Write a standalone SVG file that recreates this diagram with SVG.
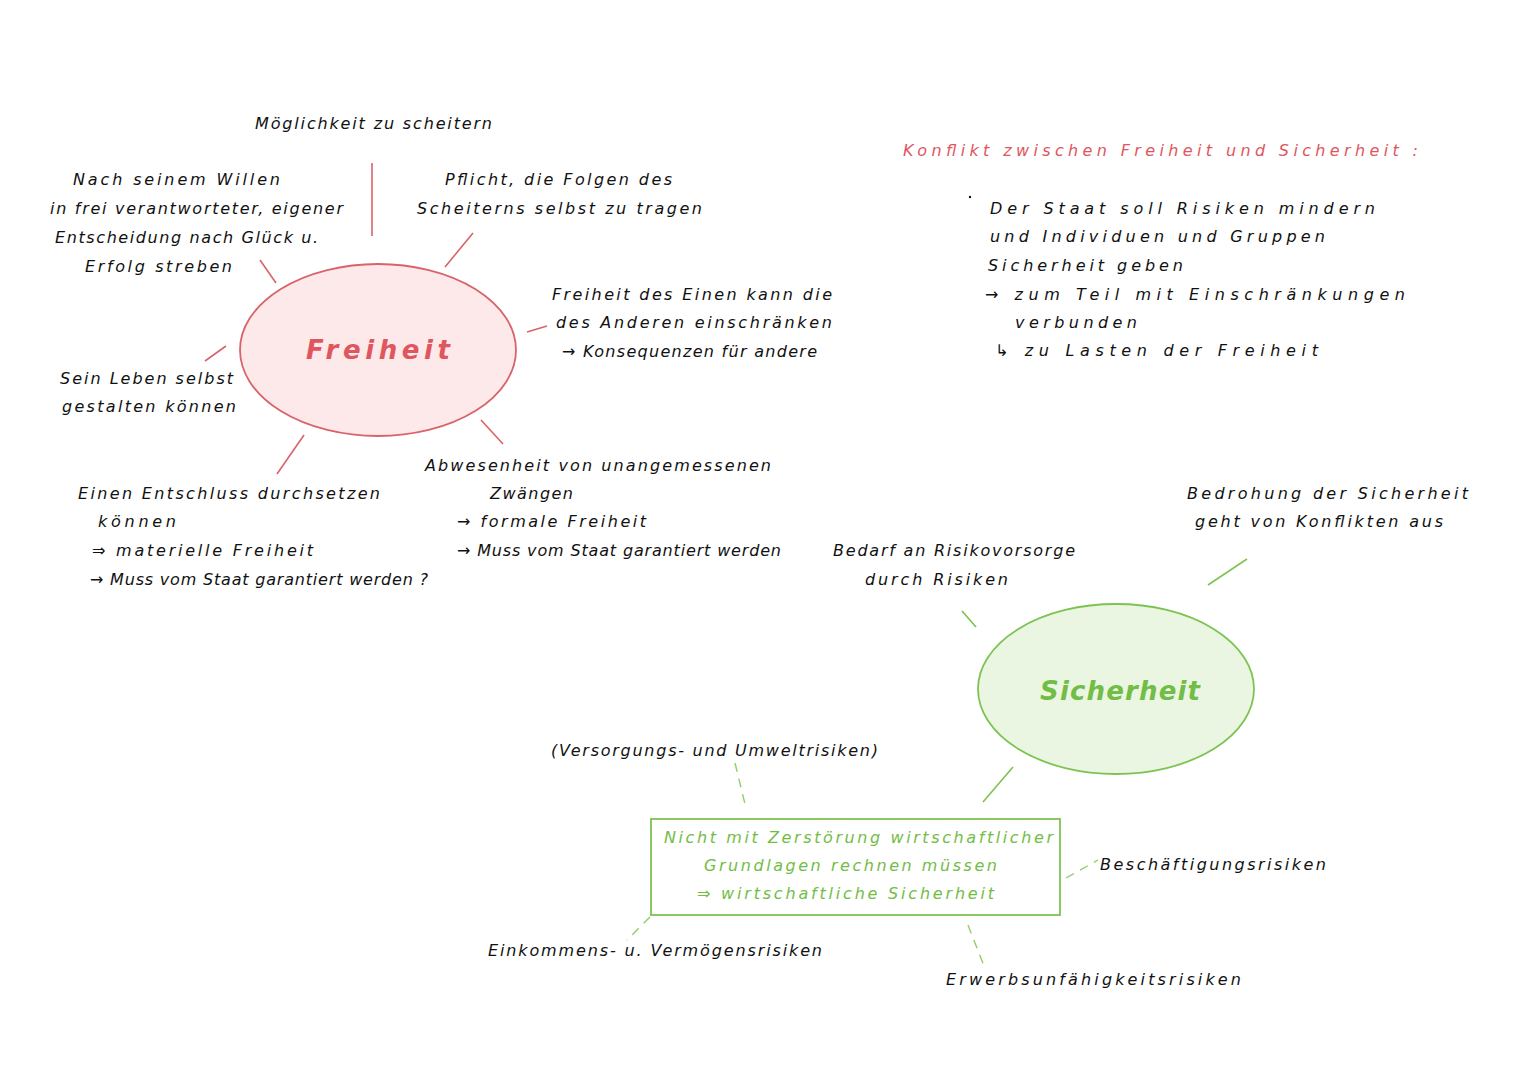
<svg xmlns="http://www.w3.org/2000/svg" width="1527" height="1080" viewBox="0 0 1527 1080">
<style>
text{font-family:"DejaVu Sans","Liberation Sans",Arial,sans-serif;font-style:italic;font-size:16px;fill:#111}
.r{fill:#e0565e}
.g{fill:#72bd45}
.big{font-size:26px;font-weight:bold}
.rl{stroke:#d9636a;stroke-width:1.6;fill:none}
.gl{stroke:#7dc351;stroke-width:1.6;fill:none}
.gd{stroke:#8fcf6a;stroke-width:1.4;fill:none;stroke-dasharray:9 7}
</style>
<rect width="1527" height="1080" fill="#fff"/>
<g id="connectors">
<line class="rl" x1="372" y1="163" x2="372" y2="236"/>
<line class="rl" x1="445" y1="267" x2="473" y2="233"/>
<line class="rl" x1="260" y1="260" x2="276" y2="283"/>
<line class="rl" x1="527" y1="332" x2="547" y2="326"/>
<line class="rl" x1="205" y1="361" x2="226" y2="346"/>
<line class="rl" x1="277" y1="474" x2="304" y2="435"/>
<line class="rl" x1="481" y1="420" x2="503" y2="444"/>
<line class="gl" x1="1208" y1="585" x2="1247" y2="559"/>
<line class="gl" x1="962" y1="611" x2="976" y2="627"/>
<line class="gl" x1="983" y1="802" x2="1013" y2="767"/>
<line class="gd" x1="735" y1="763" x2="746" y2="808"/>
<line class="gd" x1="1066" y1="878" x2="1098" y2="860"/>
<line class="gd" x1="650" y1="917" x2="627" y2="940"/>
<line class="gd" x1="968" y1="925" x2="984" y2="966"/>
</g>
<g id="freiheit">
<ellipse cx="378" cy="350" rx="138" ry="86" fill="#fde9e9" stroke="#d9636a" stroke-width="1.8"/>
<text class="r big" x="306" y="359" textLength="144" lengthAdjust="spacing">Freiheit</text>
</g>
<g id="moeglichkeit"><text x="255" y="129" textLength="237" lengthAdjust="spacing">Möglichkeit zu scheitern</text></g>
<g id="nach-willen">
<text x="73" y="185" textLength="207" lengthAdjust="spacing">Nach seinem Willen</text>
<text x="50" y="214" textLength="293" lengthAdjust="spacing">in frei verantworteter, eigener</text>
<text x="55" y="243" textLength="263" lengthAdjust="spacing">Entscheidung nach Glück u.</text>
<text x="85" y="272" textLength="147" lengthAdjust="spacing">Erfolg streben</text>
</g>
<g id="pflicht">
<text x="445" y="185" textLength="227" lengthAdjust="spacing">Pflicht, die Folgen des</text>
<text x="417" y="214" textLength="285" lengthAdjust="spacing">Scheiterns selbst zu tragen</text>
</g>
<g id="freiheit-einen">
<text x="552" y="300" textLength="280" lengthAdjust="spacing">Freiheit des Einen kann die</text>
<text x="556" y="328" textLength="276" lengthAdjust="spacing">des Anderen einschränken</text>
<text x="562" y="357" textLength="255" lengthAdjust="spacing">→ Konsequenzen für andere</text>
</g>
<g id="sein-leben">
<text x="60" y="384" textLength="173" lengthAdjust="spacing">Sein Leben selbst</text>
<text x="62" y="412" textLength="174" lengthAdjust="spacing">gestalten können</text>
</g>
<g id="entschluss">
<text x="78" y="499" textLength="302" lengthAdjust="spacing">Einen Entschluss durchsetzen</text>
<text x="98" y="527" textLength="78" lengthAdjust="spacing">können</text>
<text x="92" y="556" textLength="221" lengthAdjust="spacing">⇒ materielle Freiheit</text>
<text x="90" y="585" textLength="338" lengthAdjust="spacing">→ Muss vom Staat garantiert werden ?</text>
</g>
<g id="abwesenheit">
<text x="425" y="471" textLength="346" lengthAdjust="spacing">Abwesenheit von unangemessenen</text>
<text x="490" y="499" textLength="83" lengthAdjust="spacing">Zwängen</text>
<text x="457" y="527" textLength="189" lengthAdjust="spacing">→ formale Freiheit</text>
<text x="457" y="556" textLength="324" lengthAdjust="spacing">→ Muss vom Staat garantiert werden</text>
</g>
<g id="konflikt">
<text class="r" x="903" y="156" textLength="515" lengthAdjust="spacing">Konflikt zwischen Freiheit und Sicherheit :</text>
<circle cx="970" cy="197" r="1.2" fill="#111"/>
<text x="990" y="214" textLength="385" lengthAdjust="spacing">Der Staat soll Risiken mindern</text>
<text x="990" y="242" textLength="335" lengthAdjust="spacing">und Individuen und Gruppen</text>
<text x="988" y="271" textLength="195" lengthAdjust="spacing">Sicherheit geben</text>
<text x="985" y="300" textLength="420" lengthAdjust="spacing">→ zum Teil mit Einschränkungen</text>
<text x="1015" y="328" textLength="122" lengthAdjust="spacing">verbunden</text>
<text x="995" y="356" textLength="323" lengthAdjust="spacing">↳ zu Lasten der Freiheit</text>
</g>
<g id="sicherheit">
<ellipse cx="1116" cy="689" rx="138" ry="85" fill="#ebf6e2" stroke="#7dc351" stroke-width="1.8"/>
<text class="g big" x="1040" y="700" textLength="160" lengthAdjust="spacing">Sicherheit</text>
</g>
<g id="bedrohung">
<text x="1187" y="499" textLength="281" lengthAdjust="spacing">Bedrohung der Sicherheit</text>
<text x="1195" y="527" textLength="248" lengthAdjust="spacing">geht von Konflikten aus</text>
</g>
<g id="bedarf">
<text x="833" y="556" textLength="242" lengthAdjust="spacing">Bedarf an Risikovorsorge</text>
<text x="865" y="585" textLength="143" lengthAdjust="spacing">durch Risiken</text>
</g>
<g id="versorgung"><text x="551" y="756" textLength="327" lengthAdjust="spacing">(Versorgungs- und Umweltrisiken)</text></g>
<g id="wirtschaft">
<rect x="651" y="819" width="409" height="96" fill="none" stroke="#7dc351" stroke-width="1.8"/>
<text class="g" x="664" y="843" textLength="389" lengthAdjust="spacing">Nicht mit Zerstörung wirtschaftlicher</text>
<text class="g" x="704" y="871" textLength="293" lengthAdjust="spacing">Grundlagen rechnen müssen</text>
<text class="g" x="697" y="899" textLength="297" lengthAdjust="spacing">⇒ wirtschaftliche Sicherheit</text>
</g>
<g id="beschaeftigung"><text x="1100" y="870" textLength="226" lengthAdjust="spacing">Beschäftigungsrisiken</text></g>
<g id="einkommen"><text x="488" y="956" textLength="334" lengthAdjust="spacing">Einkommens- u. Vermögensrisiken</text></g>
<g id="erwerb"><text x="946" y="985" textLength="295" lengthAdjust="spacing">Erwerbsunfähigkeitsrisiken</text></g>
</svg>
